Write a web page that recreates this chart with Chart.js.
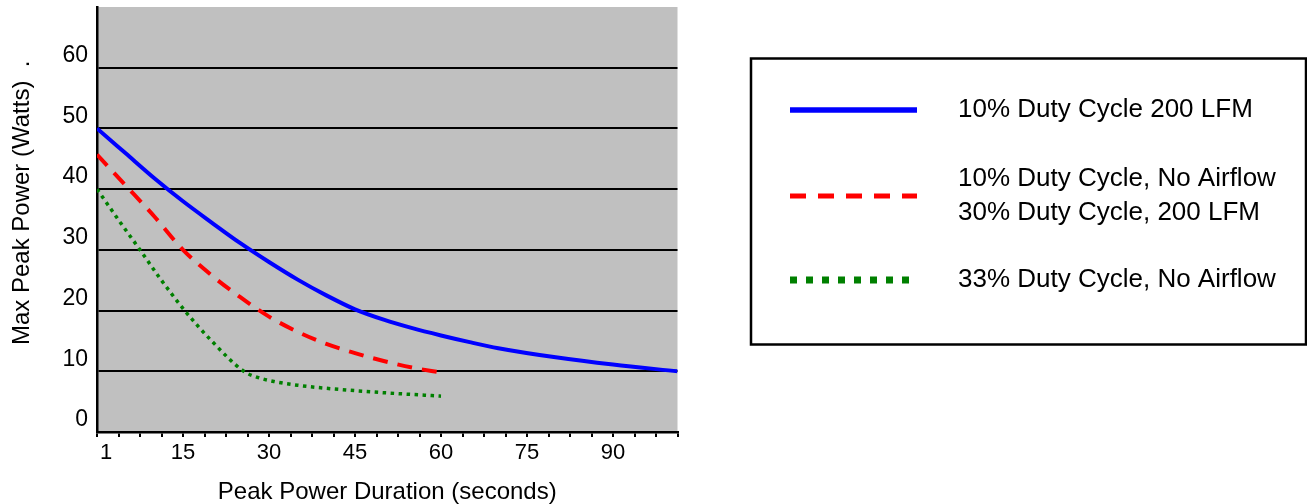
<!DOCTYPE html>
<html>
<head>
<meta charset="utf-8">
<script src="https://cdn.jsdelivr.net/npm/chart.js@4"></script>
<style>
    html, body { margin: 0; padding: 0; background: #ffffff; }
    #wrap { width: 1307px; height: 504px; }
</style>
</head>
<body>
<div id="wrap"><canvas id="peakChart" width="1307" height="504"></canvas></div>
<script>
// ============================================
// Max Peak Power vs Peak Power Duration
// ============================================

// --- series data (seconds -> watts) ---
var blueX = [0, 5, 10, 15, 20, 25, 30, 35, 40, 45, 50, 55, 60, 65, 70, 80, 90, 101.25];
var blueY = [50, 45.9, 41.8, 38.0, 34.5, 31.1, 28.0, 25.1, 22.5, 20.2, 18.5, 17.1, 15.9, 14.8, 13.8, 12.3, 11.1, 10.0];

var redX = [0, 5, 10, 15, 20, 25, 30, 35, 40, 45, 50, 55, 60];
var redY = [45.7, 40.6, 35.5, 30.0, 25.8, 22.2, 19.0, 16.5, 14.5, 13.0, 11.7, 10.6, 9.8];

var greenX = [0, 4, 7.5, 11, 15.3, 20, 25.6, 28, 31, 35, 40, 48, 60];
var greenY = [40, 34.6, 30, 25.3, 20, 15.0, 10, 9.0, 8.3, 7.7, 7.2, 6.6, 5.9];

// --- labels ---
var seriesLabels = [
    ['10% Duty Cycle 200 LFM'],
    ['10% Duty Cycle, No Airflow', '30% Duty Cycle, 200 LFM'],
    ['33% Duty Cycle, No Airflow']
];
var xLabelValues = [0, 15, 30, 45, 60, 75, 90];
var xLabelText = ['1', '15', '30', '45', '60', '75', '90'];
var yTickValues = [0, 10, 20, 30, 40, 50, 60];

var X_MAX = 101.25;
var X_TICK_STEP = 3.75;
var Y_MAX = 70;

function toPoints(xs, ys) {
    var pts = [];
    for (var i = 0; i < xs.length; i++) {
        pts.push({ x: xs[i], y: ys[i] });
    }
    return pts;
}

var FONT = '"Liberation Sans", Arial, sans-serif';

// --------------------------------------------------
//  Plot background + boxed legend
// --------------------------------------------------
var plotBackground = {
    id: 'plotBackground',
    beforeDraw: function (chart) {
        var a = chart.chartArea;
        var ctx = chart.ctx;
        ctx.save();
        ctx.fillStyle = '#C0C0C0';
        ctx.fillRect(a.left, a.top, a.right - a.left, a.bottom - a.top);
        ctx.restore();
    }
};

var boxLegend = {
    id: 'boxLegend',
    afterDraw: function (chart) {
        var ctx = chart.ctx;
        var styles = [
            { color: '#0000FF', width: 5.5, dash: [] },
            { color: '#FF0000', width: 5, dash: [16, 12] },
            { color: '#008000', width: 7, dash: [7, 9] }
        ];
        var rowY = [110, 196, 280];
        ctx.save();
        ctx.strokeStyle = '#000000';
        ctx.lineWidth = 2.5;
        ctx.strokeRect(751, 58.5, 555, 286);

        ctx.font = '26px ' + FONT;
        ctx.fillStyle = '#000000';
        ctx.textBaseline = 'middle';
        ctx.textAlign = 'left';

        for (var i = 0; i < styles.length; i++) {
            var s = styles[i];
            ctx.beginPath();
            ctx.setLineDash(s.dash);
            ctx.lineWidth = s.width;
            ctx.strokeStyle = s.color;
            ctx.moveTo(790, rowY[i]);
            ctx.lineTo(917, rowY[i]);
            ctx.stroke();

            var lines = seriesLabels[i];
            var lh = 34;
            var y0 = rowY[i] - (lines.length - 1) * lh / 2;
            for (var j = 0; j < lines.length; j++) {
                ctx.fillText(lines[j], 958, y0 + j * lh);
            }
        }
        ctx.restore();
    }
};

// --------------------------------------------------
//  Chart
// --------------------------------------------------
var ctx = document.getElementById('peakChart').getContext('2d');

var chart = new Chart(ctx, {
    type: 'line',
    data: {
        datasets: [
            {
                label: seriesLabels[0].join(' '),
                data: toPoints(blueX, blueY),
                borderColor: '#0000FF',
                borderWidth: 4,
                pointRadius: 0,
                cubicInterpolationMode: 'monotone',
                fill: false
            },
            {
                label: seriesLabels[1].join(' / '),
                data: toPoints(redX, redY),
                borderColor: '#FF0000',
                borderWidth: 4,
                borderDash: [15, 10],
                pointRadius: 0,
                cubicInterpolationMode: 'monotone',
                fill: false
            },
            {
                label: seriesLabels[2].join(' '),
                data: toPoints(greenX, greenY),
                borderColor: '#008000',
                borderWidth: 3.5,
                borderDash: [3.5, 4.5],
                pointRadius: 0,
                cubicInterpolationMode: 'monotone',
                fill: false
            }
        ]
    },
    options: {
        responsive: false,
        devicePixelRatio: 1,
        animation: false,
        layout: { padding: { left: 0, top: 7, right: 629.5, bottom: 0 } },
        plugins: {
            legend: { display: false },
            tooltip: { enabled: false }
        },
        scales: {
            x: {
                type: 'linear',
                min: 0,
                max: X_MAX,
                afterBuildTicks: function (scale) {
                    var t = [];
                    for (var k = 0; k * X_TICK_STEP <= X_MAX + 1e-9; k++) {
                        t.push({ value: k * X_TICK_STEP });
                    }
                    scale.ticks = t;
                },
                afterFit: function (scale) {
                    scale.height = 72;
                    scale.paddingLeft = 0;
                    scale.paddingRight = 0;
                },
                ticks: {
                    autoSkip: false,
                    maxRotation: 0,
                    padding: 3,
                    color: '#000000',
                    font: { size: 22, family: FONT },
                    callback: function (value) {
                        var idx = xLabelValues.indexOf(value);
                        if (idx < 0) return '';
                        return value === 0 ? '   ' + xLabelText[idx] : xLabelText[idx];
                    }
                },
                grid: {
                    drawOnChartArea: false,
                    drawTicks: true,
                    tickLength: 5,
                    color: '#000000',
                    lineWidth: 2
                },
                border: { display: true, color: '#000000', width: 2.5 },
                title: {
                    display: true,
                    text: 'Peak Power Duration (seconds)',
                    color: '#000000',
                    font: { size: 24, family: FONT, lineHeight: 1 },
                    padding: { top: 0, bottom: 0 }
                }
            },
            y: {
                min: 0,
                max: Y_MAX,
                afterBuildTicks: function (scale) {
                    var t = yTickValues.map(function (v) { return { value: v }; });
                    t.push({ value: Y_MAX });
                    scale.ticks = t;
                },
                afterFit: function (scale) {
                    scale.width = 97;
                    scale.paddingTop = 0;
                    scale.paddingBottom = 0;
                },
                ticks: {
                    padding: 9,
                    labelOffset: -12,
                    color: '#000000',
                    font: { size: 23, family: FONT },
                    callback: function (value) {
                        return yTickValues.indexOf(value) < 0 ? '' : String(value);
                    }
                },
                grid: {
                    drawTicks: false,
                    lineWidth: 2,
                    color: function (c) {
                        var v = c.tick && c.tick.value;
                        return (v === 0 || v === Y_MAX) ? 'rgba(0,0,0,0)' : '#000000';
                    }
                },
                border: { display: true, color: '#000000', width: 2.5 },
                title: {
                    display: true,
                    text: '     Max Peak Power (Watts)  .',
                    color: '#000000',
                    font: { size: 24, family: FONT, lineHeight: 1 },
                    padding: { top: 10, bottom: 0 }
                }
            }
        }
    },
    plugins: [plotBackground, boxLegend]
});
</script>
</body>
</html>
